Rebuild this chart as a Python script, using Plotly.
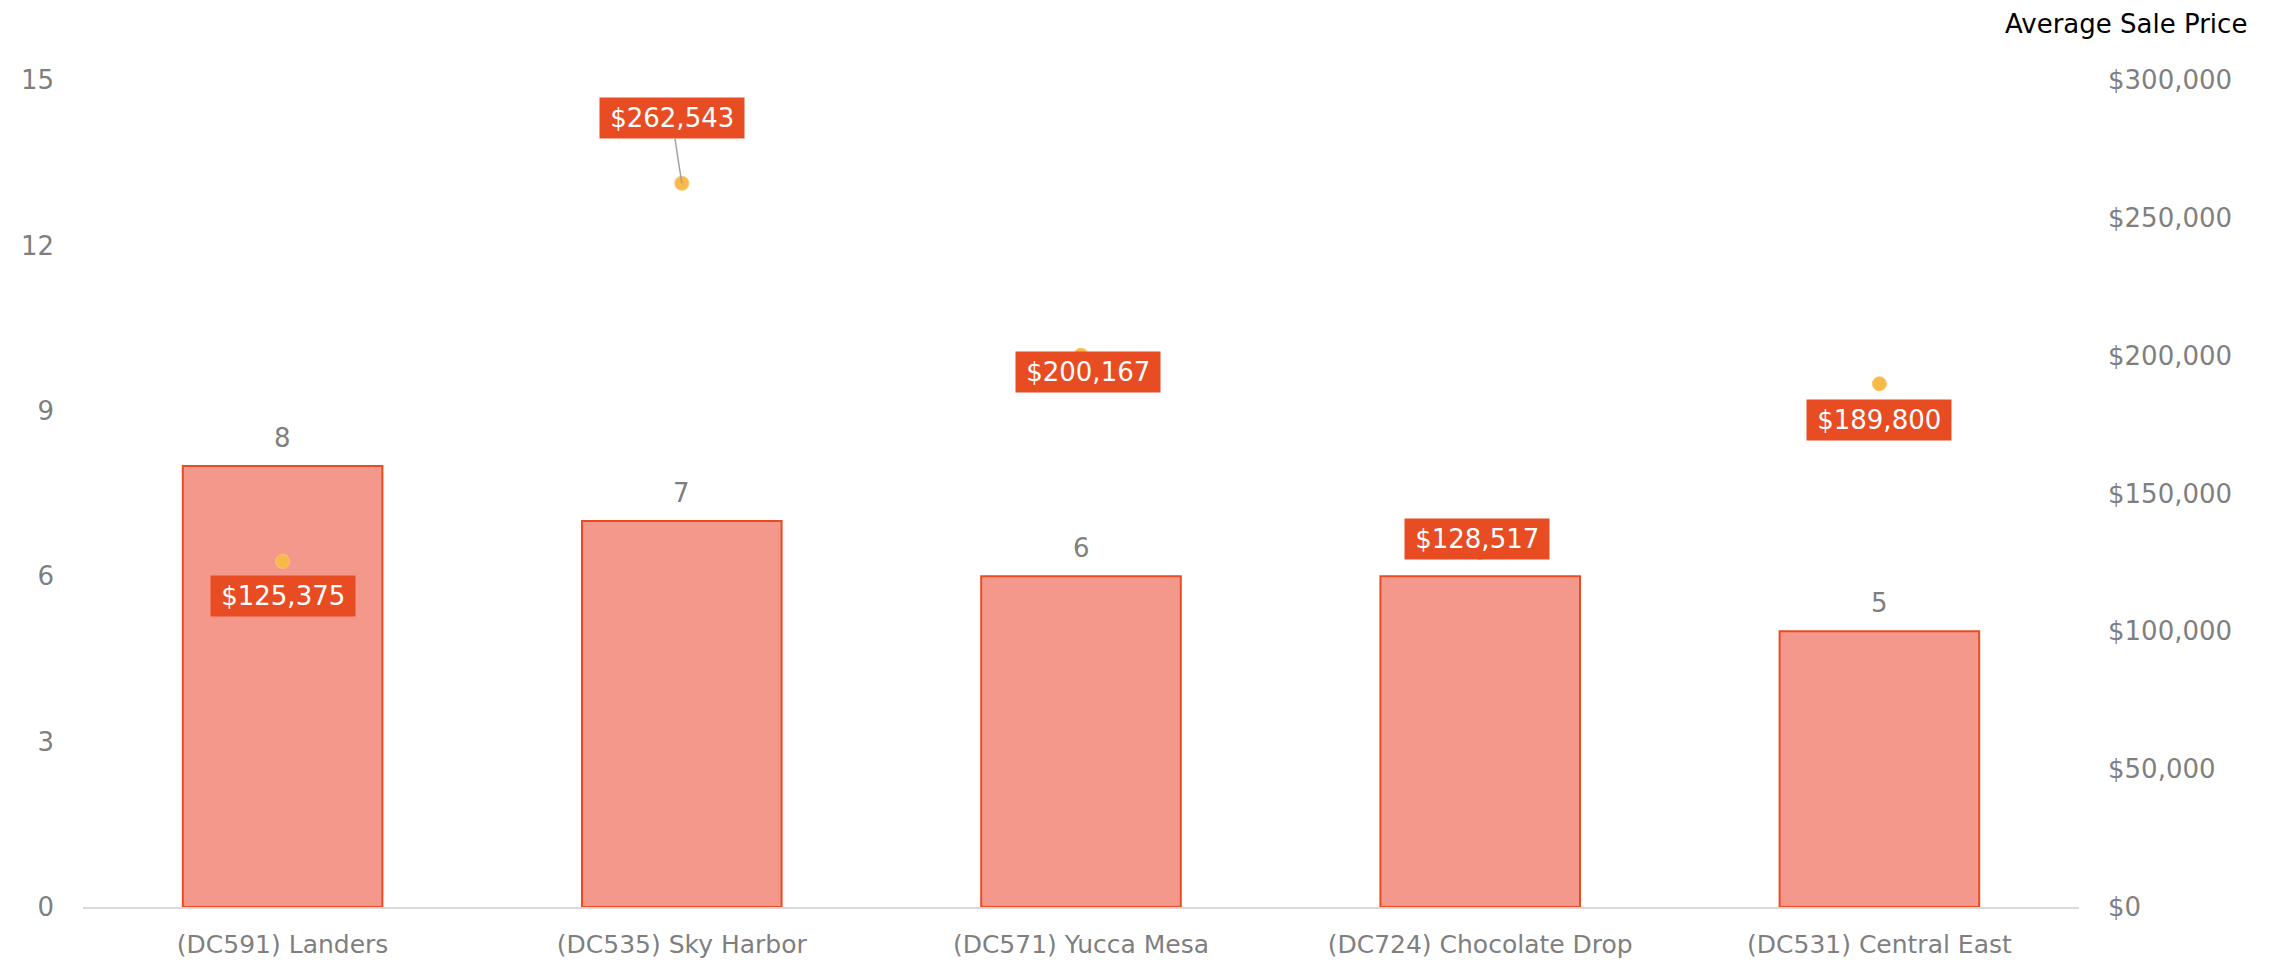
import plotly.graph_objects as go

categories = ["(DC591) Landers", "(DC535) Sky Harbor", "(DC571) Yucca Mesa",
              "(DC724) Chocolate Drop", "(DC531) Central East"]
counts = [8, 7, 6, 6, 5]
avg_price = [125375, 262543, 200167, 128517, 189800]
left_ticks = [0, 3, 6, 9, 12, 15]
right_ticks = [0, 50000, 100000, 150000, 200000, 250000, 300000]
# label offsets (pixels) of the price callouts relative to their points
label_dx = [0, -10, 7, -3, 0]
label_dy = [35, -65, 17, -14, 36]

FONT = "DejaVu Sans"
GRAY = "#7F7F7F"
ORANGE = "#E84C22"
TS = "\u2009"

fig = go.Figure()
fig.add_trace(go.Bar(
    x=categories, y=counts, yaxis="y",
    marker=dict(color="#F5988C", line=dict(color=ORANGE, width=2)),
    hoverinfo="skip",
))
fig.add_trace(go.Scatter(
    x=categories, y=avg_price, yaxis="y2", mode="markers",
    marker=dict(color="#F8B84A", size=14, line=dict(color="#FBC865", width=1)),
    hoverinfo="skip",
))

annotations = []
for c, n in zip(categories, counts):
    annotations.append(dict(
        x=c, y=n, xref="x", yref="y", text=str(n), showarrow=False,
        yanchor="bottom", yshift=11, font=dict(family=FONT, size=26, color=GRAY)))
for i, (c, p) in enumerate(zip(categories, avg_price)):
    arrow_visible = label_dy[i] < -40
    annotations.append(dict(
        x=c, y=p, xref="x", yref="y2", text=f"{TS}${p:,.0f}{TS}",
        showarrow=True, ax=label_dx[i], ay=label_dy[i], axref="pixel", ayref="pixel",
        arrowhead=0, arrowwidth=1.5,
        arrowcolor="#A0A0A0" if arrow_visible else "rgba(0,0,0,0)",
        bgcolor=ORANGE, borderpad=5,
        font=dict(family=FONT, size=26, color="white")))
annotations.append(dict(
    xref="paper", yref="paper", x=1.085, y=1.068, xanchor="right", yanchor="middle",
    text="Average Sale Price", showarrow=False,
    font=dict(family=FONT, size=26, color="black")))

fig.update_layout(
    width=2271, height=957,
    margin=dict(l=75, r=200, t=72, b=58, autoexpand=False),
    paper_bgcolor="white", plot_bgcolor="white",
    showlegend=False, bargap=0.5,
    font=dict(family=FONT, size=26, color=GRAY),
    xaxis=dict(showline=True, linecolor="#D9D9D9", linewidth=2, showgrid=False,
               automargin=False,
               ticks="", tickfont=dict(family=FONT, size=25, color=GRAY),
               ticklabelstandoff=14),
    yaxis=dict(range=[0, 15], tickvals=left_ticks, showgrid=False, zeroline=False,
               automargin=False,
               showline=False, ticks="", tickfont=dict(family=FONT, size=26, color=GRAY),
               ticklabelstandoff=28),
    yaxis2=dict(range=[0, 300000], tickvals=right_ticks, tickformat="$,.0f",
                overlaying="y", side="right", showgrid=False, zeroline=False,
                automargin=False,
                showline=False, ticks="", tickfont=dict(family=FONT, size=26, color=GRAY),
                ticklabelstandoff=28),
    annotations=annotations,
)

fig.write_html("out.html")
